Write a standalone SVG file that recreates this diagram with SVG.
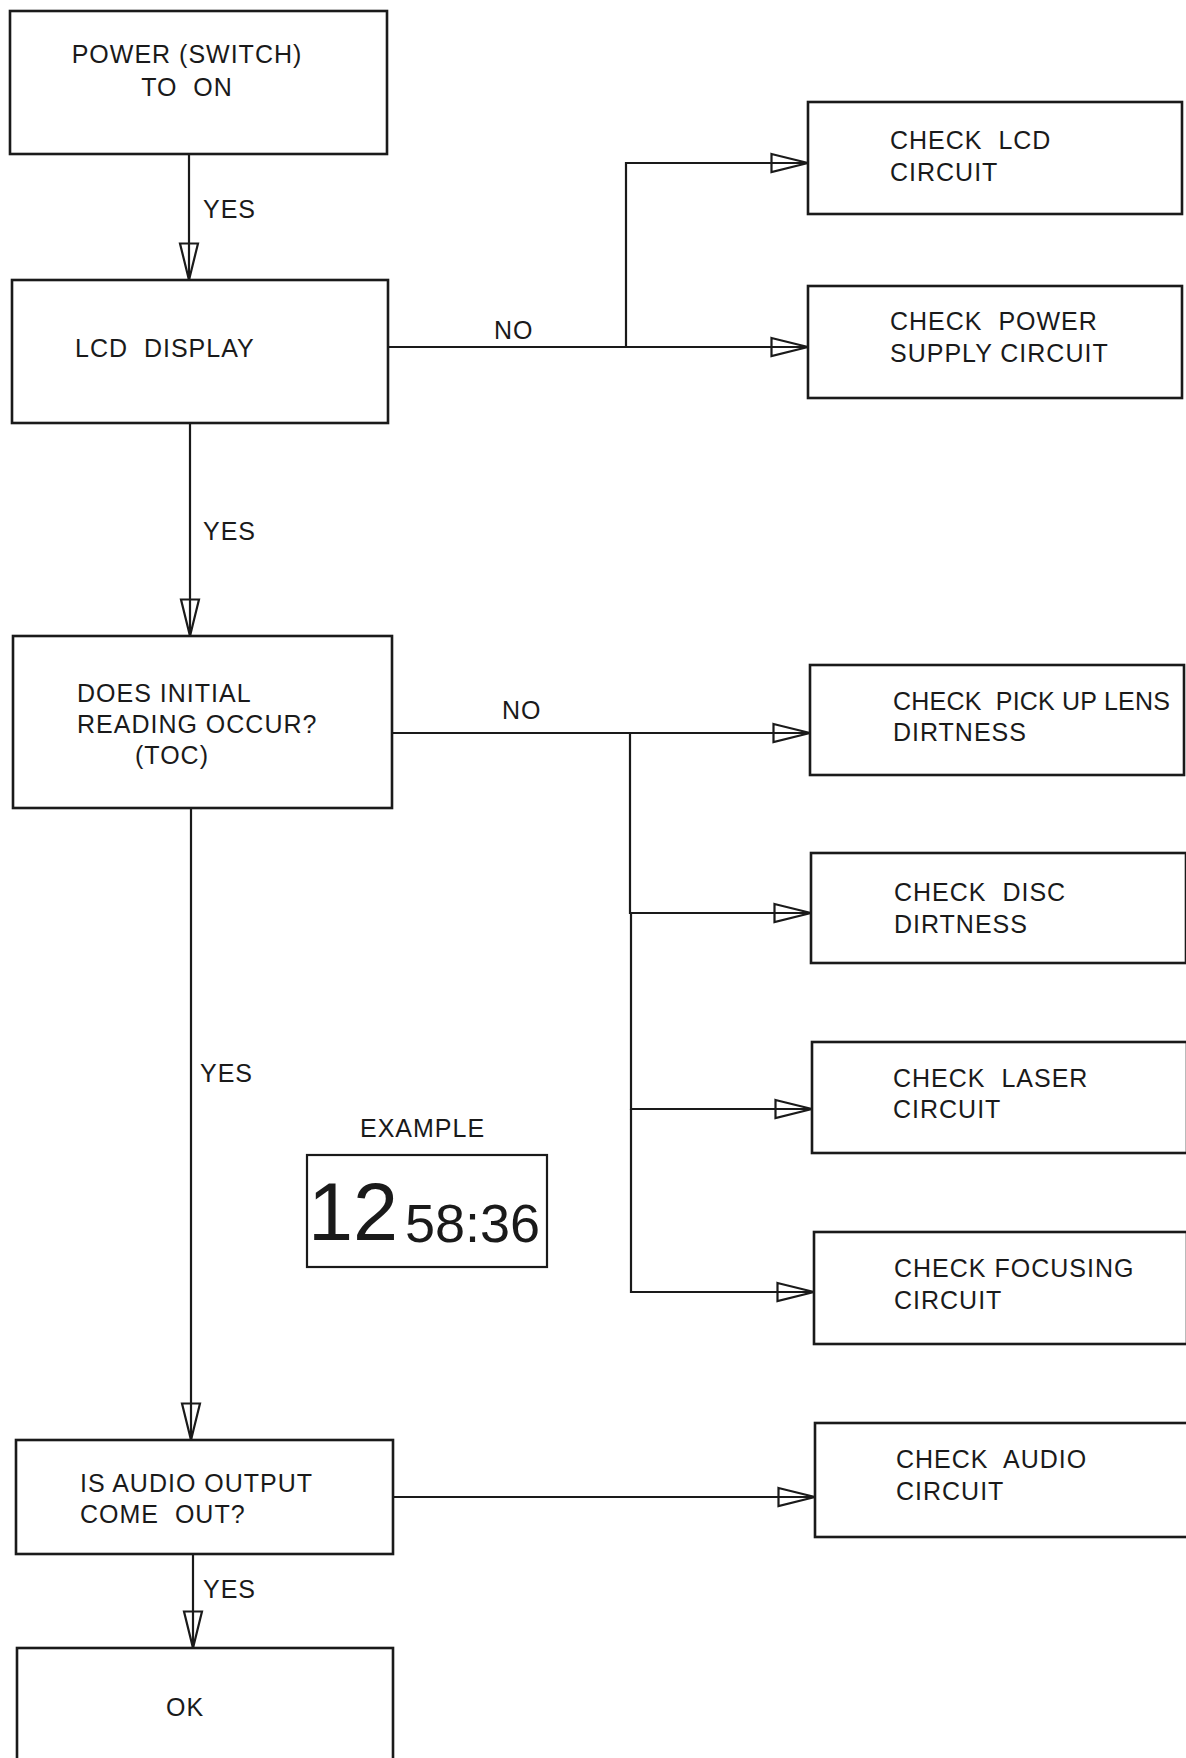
<svg xmlns="http://www.w3.org/2000/svg" width="1186" height="1758" viewBox="0 0 1186 1758">
<style>
.box{fill:none;stroke:#1a1a1a;stroke-width:2.6}
.t{font-family:"Liberation Sans",Arial,sans-serif;font-size:25px;letter-spacing:1px;fill:#1a1a1a}
.c{fill:none;stroke:#1a1a1a;stroke-width:2.2}
</style>
<defs>
<marker id="ah" viewBox="0 0 40 22" refX="38" refY="11" markerWidth="40" markerHeight="22" markerUnits="userSpaceOnUse" orient="auto">
<path d="M1.5,2 L38,11 L1.5,20 Z" fill="none" stroke="#1a1a1a" stroke-width="2.2"/>
</marker>
</defs>
<rect width="1186" height="1758" fill="#fff"/>
<g id="connectors">
<path class="c" d="M189,155 V280" marker-end="url(#ah)"/>
<path class="c" d="M190,423 V636" marker-end="url(#ah)"/>
<path class="c" d="M388,347 H808" marker-end="url(#ah)"/>
<path class="c" d="M626,347 V163 H808" marker-end="url(#ah)"/>
<path class="c" d="M392,733 H810" marker-end="url(#ah)"/>
<path class="c" d="M630,733 V913 H811" marker-end="url(#ah)"/>
<path class="c" d="M631,913 V1109 H812" marker-end="url(#ah)"/>
<path class="c" d="M631,1109 V1292 H814" marker-end="url(#ah)"/>
<path class="c" d="M191,808 V1440" marker-end="url(#ah)"/>
<path class="c" d="M393,1497 H815" marker-end="url(#ah)"/>
<path class="c" d="M193,1554 V1648" marker-end="url(#ah)"/>
<text class="t" x="203" y="218">YES</text>
<text class="t" x="203" y="540">YES</text>
<text class="t" x="200" y="1082">YES</text>
<text class="t" x="203" y="1598">YES</text>
<text class="t" x="494" y="339">NO</text>
<text class="t" x="502" y="719">NO</text>
</g>
<g id="power">
<rect class="box" x="10" y="11" width="377" height="143"/>
<text class="t" x="187" y="63" text-anchor="middle">POWER (SWITCH)</text>
<text class="t" x="187" y="96" text-anchor="middle" xml:space="preserve">TO  ON</text>
</g>
<g id="lcd-display">
<rect class="box" x="12" y="280" width="376" height="143"/>
<text class="t" x="75" y="357" xml:space="preserve">LCD  DISPLAY</text>
</g>
<g id="check-lcd">
<rect class="box" x="808" y="102" width="374" height="112"/>
<text class="t" x="890" y="149" xml:space="preserve">CHECK  LCD</text>
<text class="t" x="890" y="181">CIRCUIT</text>
</g>
<g id="check-power">
<rect class="box" x="808" y="286" width="374" height="112"/>
<text class="t" x="890" y="330" xml:space="preserve">CHECK  POWER</text>
<text class="t" x="890" y="362">SUPPLY CIRCUIT</text>
</g>
<g id="initial-reading">
<rect class="box" x="13" y="636" width="379" height="172"/>
<text class="t" x="77" y="702">DOES INITIAL</text>
<text class="t" x="77" y="733">READING OCCUR?</text>
<text class="t" x="135" y="764">(TOC)</text>
</g>
<g id="check-lens">
<rect class="box" x="810" y="665" width="374" height="110"/>
<text class="t" x="893" y="710" xml:space="preserve" style="letter-spacing:0.2px">CHECK  PICK UP LENS</text>
<text class="t" x="893" y="741">DIRTNESS</text>
</g>
<g id="check-disc">
<rect class="box" x="811" y="853" width="375" height="110"/>
<text class="t" x="894" y="901" xml:space="preserve">CHECK  DISC</text>
<text class="t" x="894" y="933">DIRTNESS</text>
</g>
<g id="check-laser">
<rect class="box" x="812" y="1042" width="375" height="111"/>
<text class="t" x="893" y="1087" xml:space="preserve">CHECK  LASER</text>
<text class="t" x="893" y="1118">CIRCUIT</text>
</g>
<g id="check-focusing">
<rect class="box" x="814" y="1232" width="373" height="112"/>
<text class="t" x="894" y="1277">CHECK FOCUSING</text>
<text class="t" x="894" y="1309">CIRCUIT</text>
</g>
<g id="example">
<text class="t" x="360" y="1137">EXAMPLE</text>
<rect x="307" y="1155" width="240" height="112" fill="none" stroke="#1a1a1a" stroke-width="2.2"/>
<text x="308" y="1240" font-family="Liberation Sans,Arial,sans-serif" font-size="81" fill="#1a1a1a">12</text>
<text x="405" y="1242" font-family="Liberation Sans,Arial,sans-serif" font-size="54" fill="#1a1a1a">58:36</text>
</g>
<g id="audio-output">
<rect class="box" x="16" y="1440" width="377" height="114"/>
<text class="t" x="80" y="1492">IS AUDIO OUTPUT</text>
<text class="t" x="80" y="1523" xml:space="preserve">COME  OUT?</text>
</g>
<g id="check-audio">
<rect class="box" x="815" y="1423" width="373" height="114"/>
<text class="t" x="896" y="1468" xml:space="preserve">CHECK  AUDIO</text>
<text class="t" x="896" y="1500">CIRCUIT</text>
</g>
<g id="ok">
<rect class="box" x="17" y="1648" width="376" height="120"/>
<text class="t" x="166" y="1716">OK</text>
</g>
</svg>
